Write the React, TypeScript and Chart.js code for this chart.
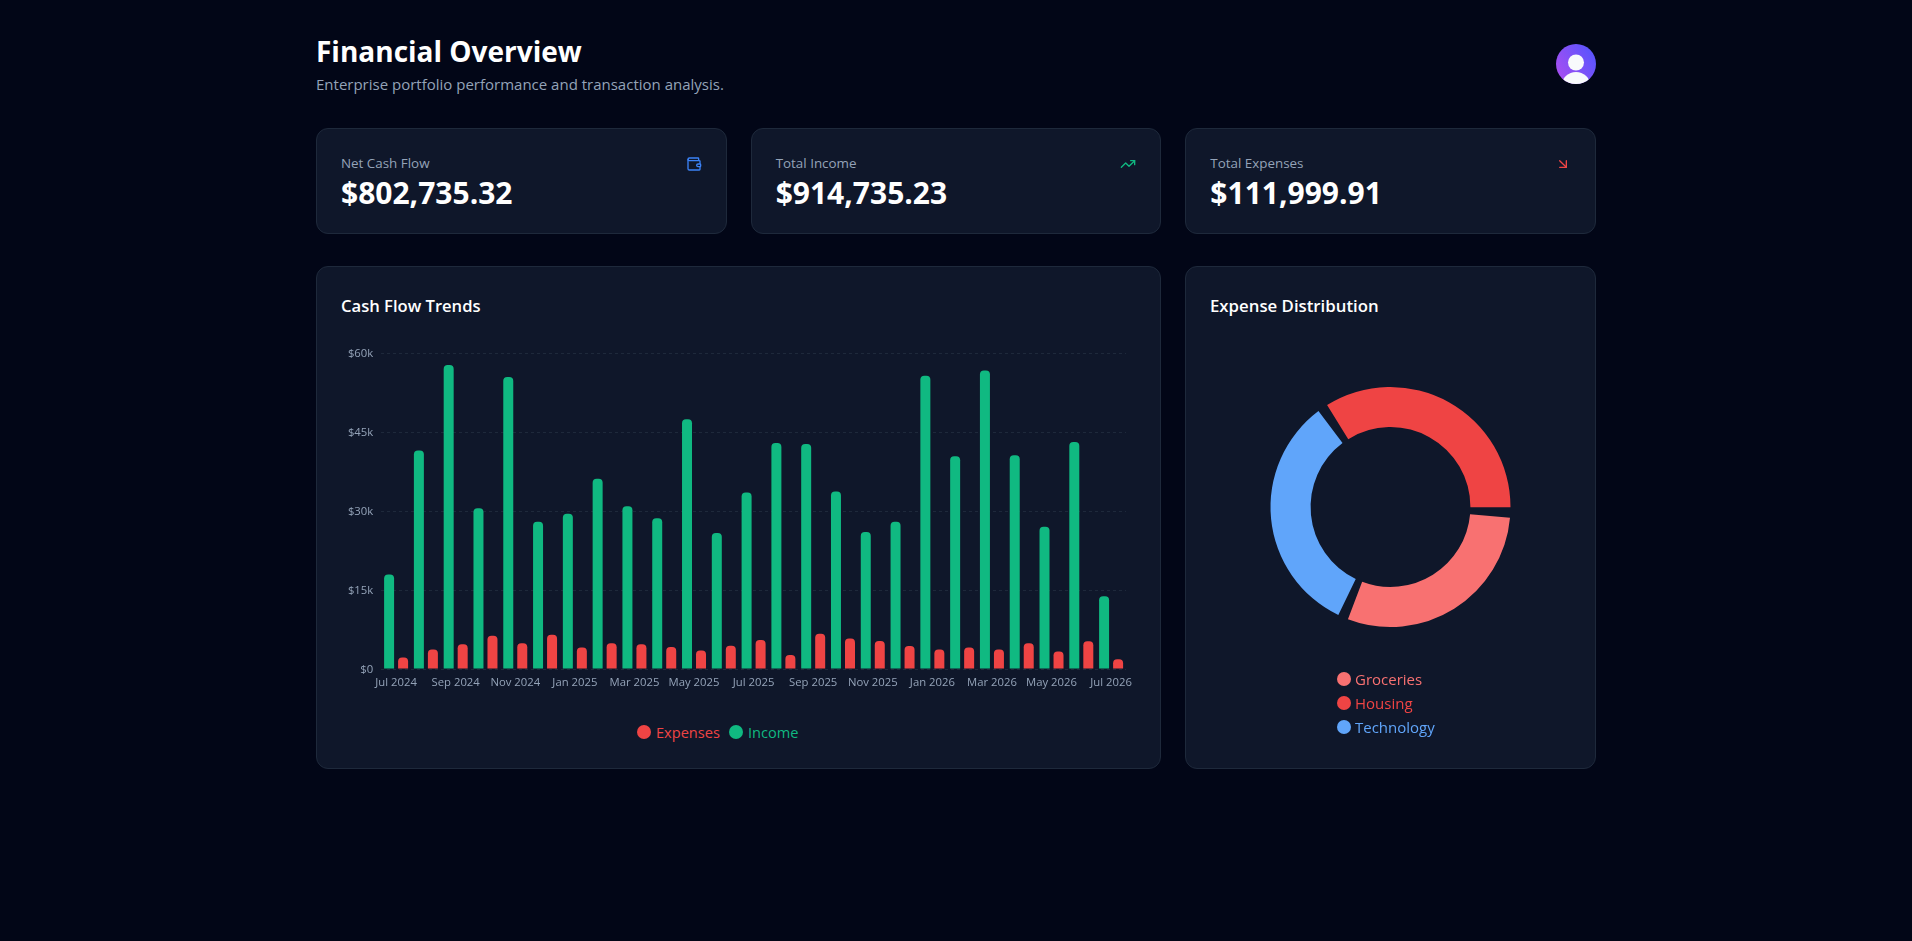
import React, { useEffect, useRef } from "react";
import Chart from "chart.js/auto";

const FONT = '"Open Sans", sans-serif';
const MUTED = "#94a3b8";
const CARD_BG = "#0f172a";
const CARD_BORDER = "#1e293b";
const INCOME_COLOR = "#10b981";
const EXPENSE_COLOR = "#ef4444";

const months = [
    "Jul 2024", "Aug 2024", "Sep 2024", "Oct 2024", "Nov 2024", "Dec 2024", "Jan 2025", "Feb 2025", "Mar 2025",
    "Apr 2025", "May 2025", "Jun 2025", "Jul 2025", "Aug 2025", "Sep 2025", "Oct 2025", "Nov 2025", "Dec 2025",
    "Jan 2026", "Feb 2026", "Mar 2026", "Apr 2026", "May 2026", "Jun 2026", "Jul 2026",
];
const income = [
    17960, 41500, 57700, 30500, 55450, 27950, 29500, 36100, 30900, 28600, 47400, 25800, 33500,
    42900, 42700, 33700, 26000, 27950, 55700, 40400, 56700, 40600, 27000, 43100, 13800,
];
const expenses = [
    2200, 3700, 4700, 6300, 4900, 6500, 4100, 4900, 4700, 4200, 3500, 4400, 5500,
    2650, 6700, 5800, 5300, 4350, 3700, 4100, 3700, 4900, 3300, 5250, 1830,
];
const yTicks = [0, 15000, 30000, 45000, 60000];

// clockwise from the start of the ring
const expenseCategories = ["Housing", "Groceries", "Technology"];
const expenseValues = [39620, 34290, 38090];
const expenseColors = ["#ef4444", "#f87171", "#60a5fa"];

const cardLabels = ["Net Cash Flow", "Total Income", "Total Expenses"];
const cardValues = ["$802,735.32", "$914,735.23", "$111,999.91"];

const GAP_DEGREES = 5;

const CashFlowChart: React.FC = () => {
    const canvasRef = useRef<HTMLCanvasElement | null>(null);

    useEffect(() => {
        const canvas = canvasRef.current;
        if (!canvas) return;

        const chart = new Chart(canvas, {
            type: "bar",
            data: {
                labels: months,
                datasets: [
                    { label: "Income", data: income, backgroundColor: INCOME_COLOR, borderRadius: 4 },
                    { label: "Expenses", data: expenses, backgroundColor: EXPENSE_COLOR, borderRadius: 4 },
                ],
            },
            options: {
                responsive: true,
                maintainAspectRatio: false,
                animation: false,
                layout: { padding: { top: 15, right: 10 } },
                datasets: { bar: { categoryPercentage: 0.94, barPercentage: 0.714 } },
                plugins: { legend: { display: false }, tooltip: { enabled: false } },
                scales: {
                    x: {
                        grid: { display: false, drawTicks: false },
                        border: { display: false },
                        afterFit: (scale: any) => {
                            // the last label may hang past the plot, as in the reference
                            scale.height = 24;
                            scale.paddingLeft = 0;
                            scale.paddingRight = 0;
                        },
                        ticks: {
                            autoSkip: false,
                            maxRotation: 0,
                            padding: 7,
                            color: MUTED,
                            font: { family: FONT, size: 11.3 },
                            callback: (_: any, index: number) => (index % 2 === 0 ? months[index] : ""),
                        },
                    },
                    y: {
                        min: 0,
                        max: 60000,
                        afterFit: (scale: any) => { scale.width = 40.2; },
                        afterBuildTicks: (scale: any) => { scale.ticks = yTicks.map((value) => ({ value })); },
                        grid: { color: CARD_BORDER, tickLength: 0 },
                        border: { display: false, dash: [3, 3] },
                        ticks: {
                            padding: 8,
                            labelOffset: 1,
                            color: MUTED,
                            font: { family: FONT, size: 11.3 },
                            callback: (value: any) => (value === 0 ? "$0" : `$${Number(value) / 1000}k`),
                        },
                    },
                },
            },
        } as any);

        return () => {
            chart.destroy();
        };
    }, []);

    return <canvas ref={canvasRef} />;
};

const ExpenseDonut: React.FC = () => {
    const canvasRef = useRef<HTMLCanvasElement | null>(null);

    useEffect(() => {
        const canvas = canvasRef.current;
        if (!canvas) return;

        // the ring has angular gaps, so a see-through slice sits after each category
        const total = expenseValues.reduce((sum, value) => sum + value, 0);
        const gap = (total * GAP_DEGREES) / (360 - GAP_DEGREES * expenseValues.length);

        const chart = new Chart(canvas, {
            type: "doughnut",
            data: {
                labels: expenseCategories.flatMap((name) => [name, ""]),
                datasets: [
                    {
                        data: expenseValues.flatMap((value) => [value, gap]),
                        backgroundColor: expenseColors.flatMap((color) => [color, "rgba(0,0,0,0)"]),
                        borderWidth: 0,
                    },
                ],
            },
            options: {
                responsive: true,
                maintainAspectRatio: false,
                animation: false,
                rotation: -31.9,
                radius: 120,
                cutout: "66.6%",
                plugins: { legend: { display: false }, tooltip: { enabled: false } },
            },
        } as any);

        return () => {
            chart.destroy();
        };
    }, []);

    return <canvas ref={canvasRef} />;
};

const Dot: React.FC<{ color: string }> = ({ color }) => (
    <span style={{ width: 14, height: 14, borderRadius: "50%", background: color, display: "inline-block", flex: "none" }} />
);

const box = (left: number, top: number, width: number, height: number): React.CSSProperties => ({
    position: "absolute",
    left,
    top,
    width,
    height,
});

const text = (left: number, top: number, size: number, color: string, weight = 400): React.CSSProperties => ({
    position: "absolute",
    left,
    top,
    fontSize: size,
    lineHeight: "24px",
    color,
    fontWeight: weight,
    whiteSpace: "nowrap",
});

const Card: React.FC<{ left: number; top: number; width: number; height: number; children?: React.ReactNode }> = ({ left, top, width, height, children }) => (
    <div
        style={{
            ...box(left, top, width, height),
            boxSizing: "border-box",
            background: CARD_BG,
            border: `1px solid ${CARD_BORDER}`,
            borderRadius: 12,
        }}
    >
        {children}
    </div>
);

const iconProps = { width: 16, height: 16, viewBox: "0 0 24 24", fill: "none", strokeWidth: 2, strokeLinecap: "round", strokeLinejoin: "round" } as const;

const cardIcons = [
    <svg {...iconProps} stroke="#3b82f6">
        <path d="M19 7V4a1 1 0 0 0-1-1H5a2 2 0 0 0 0 4h15a1 1 0 0 1 1 1v4h-3a2 2 0 0 0 0 4h3a1 1 0 0 0 1-1v-2a1 1 0 0 0-1-1" />
        <path d="M3 5v14a2 2 0 0 0 2 2h15a1 1 0 0 0 1-1v-4" />
    </svg>,
    <svg {...iconProps} stroke="#10b981">
        <polyline points="22 7 13.5 15.5 8.5 10.5 2 17" />
        <polyline points="16 7 22 7 22 13" />
    </svg>,
    <svg {...iconProps} stroke="#ef4444">
        <path d="m7 7 10 10" />
        <path d="M17 7v10H7" />
    </svg>,
];

const cardLefts = [316, 750.67, 1185.33];

export default function App() {
    const legendDonut = expenseCategories
        .map((name, index) => ({ name, color: expenseColors[index] }))
        .sort((a, b) => a.name.localeCompare(b.name));

    return (
        <div style={{ position: "fixed", inset: 0, background: "#020617", fontFamily: FONT, overflow: "hidden" }}>
            <div style={text(316, 33, 28, "#ffffff", 700)}>
                <span style={{ lineHeight: "36px" }}>Financial Overview</span>
            </div>
            <div style={text(316, 72, 15, MUTED)}>Enterprise portfolio performance and transaction analysis.</div>

            <div
                style={{
                    ...box(1556, 44, 40, 40),
                    borderRadius: "50%",
                    overflow: "hidden",
                    background: "linear-gradient(60deg, #b04ef0, #4f55ff)",
                }}
            >
                <svg width={40} height={40} viewBox="0 0 40 40">
                    <circle cx={20} cy={18.5} r={8} fill="#f8fafc" />
                    <ellipse cx={20} cy={41} rx={14} ry={13} fill="#f8fafc" />
                </svg>
            </div>

            {cardLabels.map((label, index) => (
                <Card key={label} left={cardLefts[index]} top={128} width={410.67} height={106}>
                    <div style={text(24, 22, 13.4, MUTED)}>{label}</div>
                    <div style={{ ...text(24, 46, 30, "#ffffff", 700), lineHeight: "36px" }}>{cardValues[index]}</div>
                    <div style={{ position: "absolute", right: 24, top: 26, height: 16 }}>{cardIcons[index]}</div>
                </Card>
            ))}

            <Card left={316} top={266} width={845} height={503}>
                <div style={text(24, 27, 16.6, "#ffffff", 600)}>Cash Flow Trends</div>
            </Card>
            <div style={box(341, 338, 795, 355)}>
                <CashFlowChart />
            </div>
            <div style={{ position: "absolute", left: 637, top: 720, height: 24, display: "flex", alignItems: "center", fontSize: 14.6 }}>
                <Dot color={EXPENSE_COLOR} />
                <span style={{ color: EXPENSE_COLOR, marginLeft: 5 }}>Expenses</span>
                <span style={{ width: 9 }} />
                <Dot color={INCOME_COLOR} />
                <span style={{ color: INCOME_COLOR, marginLeft: 5 }}>Income</span>
            </div>

            <Card left={1185} top={266} width={411} height={503}>
                <div style={text(24, 27, 16.8, "#ffffff", 600)}>Expense Distribution</div>
            </Card>
            <div style={box(1210, 330, 361, 354)}>
                <ExpenseDonut />
            </div>
            <div style={{ position: "absolute", left: 1337, top: 667 }}>
                {legendDonut.map((item) => (
                    <div key={item.name} style={{ height: 24, display: "flex", alignItems: "center", fontSize: 15 }}>
                        <Dot color={item.color} />
                        <span style={{ color: item.color, marginLeft: 4 }}>{item.name}</span>
                    </div>
                ))}
            </div>
        </div>
    );
}
